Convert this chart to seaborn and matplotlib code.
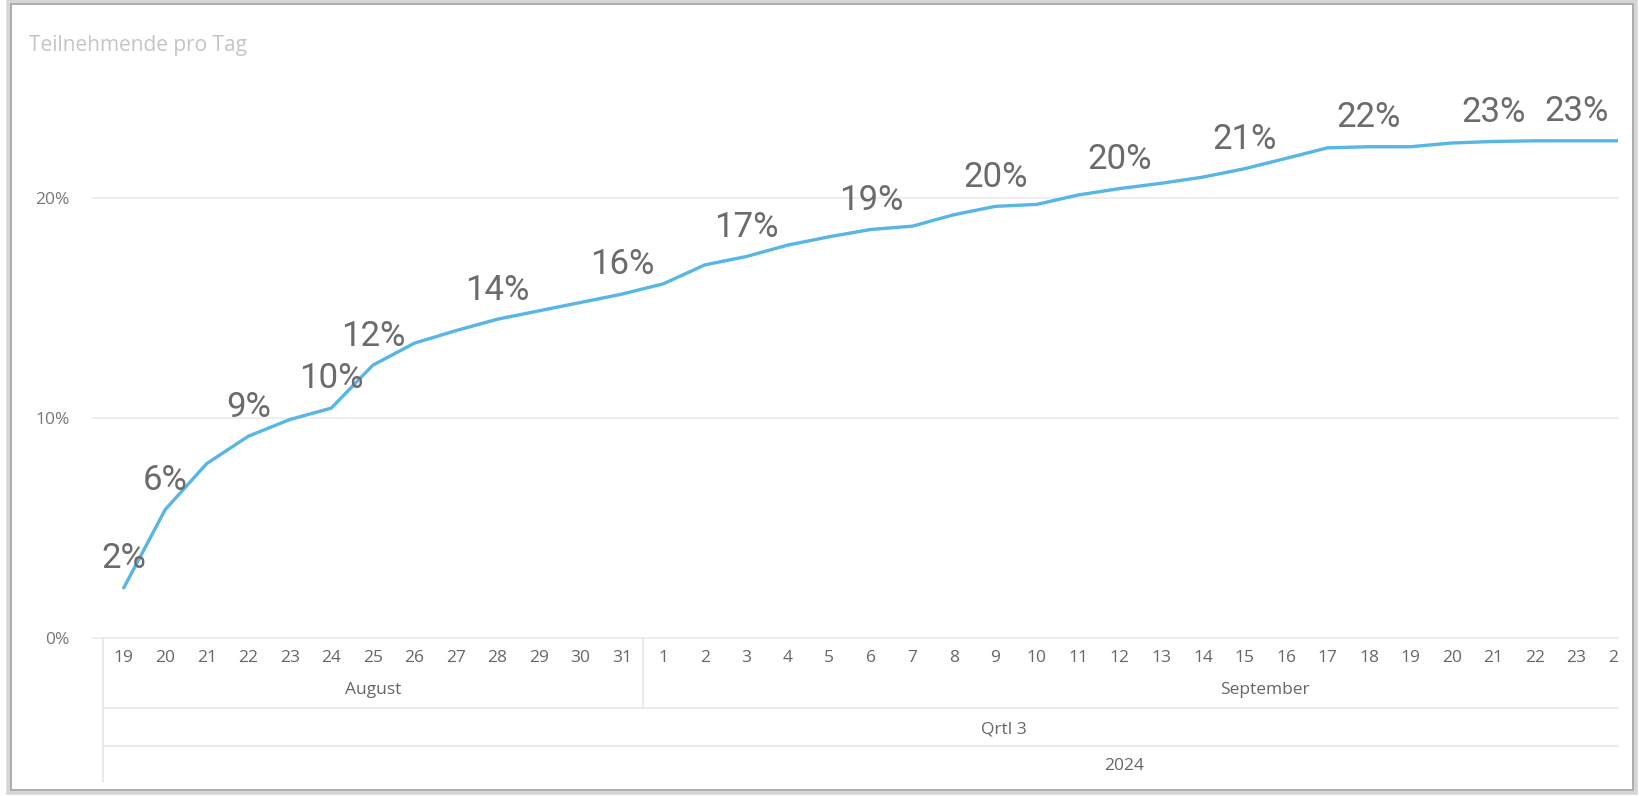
import numpy as np
import pandas as pd
import matplotlib
matplotlib.use("Agg")
import matplotlib.pyplot as plt
from matplotlib.patches import Rectangle
from matplotlib.transforms import Bbox, TransformedBbox
import seaborn as sns

# days shown on the axis (Aug 19 - Sep 24, 2024)
aug_days = list(range(19, 32))
sep_days = list(range(1, 25))
day_labels = [str(d) for d in aug_days + sep_days]
months = ["August"] * len(aug_days) + ["September"] * len(sep_days)

# cumulative share of participants
share = [2.28, 5.84, 7.93, 9.17, 9.93, 10.45, 12.40, 13.40, 13.97, 14.49, 14.87, 15.25, 15.63,
         16.10, 16.96, 17.34, 17.86, 18.24, 18.57, 18.72, 19.24, 19.62, 19.71, 20.14, 20.43,
         20.67, 20.95, 21.33, 21.80, 22.28, 22.33, 22.33, 22.50, 22.57, 22.60, 22.60, 22.60]

# days that carry a data label
labelled = ["19", "20", "22", "24", "25", "28", "31", "3", "6", "9", "12", "15", "18", "21", "23"]
labelled_month = ["August"] * 7 + ["September"] * 8

df = pd.DataFrame({"day": day_labels, "month": months, "share": np.array(share) / 100})
df["pos"] = range(len(df))

sns.set_theme(style="white")
plt.rcParams["font.family"] = ["Open Sans", "DejaVu Sans"]

fig = plt.figure(figsize=(16.4, 7.96), dpi=100)
ax = fig.add_axes([103 / 1640, 1 - 638 / 796, (1618 - 103) / 1640, 594 / 796])

sns.lineplot(data=df, x="pos", y="share", color="#56b6e6", linewidth=2.4, ax=ax)

ax.set_xlim(-0.5, len(df) - 1)
ax.set_ylim(0, 0.27)
for v in [0, 0.1, 0.2]:
    ax.axhline(v, xmin=-0.0075, xmax=1, color="#ebebeb", lw=1.2, zorder=0, clip_on=False)

ax.set_yticks([0, 0.1, 0.2])
ax.set_yticklabels(["0%", "10%", "20%"])
ax.set_xticks(df["pos"])
ax.set_xticklabels(df["day"])
ax.tick_params(axis="y", length=0, pad=24, labelsize=12.5, labelcolor="#777777")
ax.tick_params(axis="x", length=0, pad=9, labelsize=12.5, labelcolor="#666666")

# day labels are cut at the right edge of the plot, like in the report
clip = TransformedBbox(Bbox([[0, 0], [1618 / 1640, 1]]), fig.transFigure)
for lab in ax.get_xticklabels():
    lab.set_clip_on(True)
    lab.set_clip_box(clip)
ax.set_xlabel("")
ax.set_ylabel("")
for s in ax.spines.values():
    s.set_visible(False)

# data labels
for d, m in zip(labelled, labelled_month):
    row = df[(df["day"] == d) & (df["month"] == m)].iloc[0]
    ax.annotate(f"{row['share'] * 100:.0f}%", (row["pos"], row["share"]),
                xytext=(0, 21), textcoords="offset points", ha="center", va="center",
                fontsize=25, color="#6b6b6b", family=["Roboto", "DejaVu Sans"])

# hierarchy of the x axis: month / quarter / year
tr = ax.get_xaxis_transform()
h = 594
y_month = -(690 - 638) / h
y_sep1 = -(708 - 638) / h
y_q = -(729 - 638) / h
y_sep2 = -(746 - 638) / h
y_year = -(766 - 638) / h
y_end = -(782 - 638) / h

grid_kw = dict(color="#e6e6e6", lw=1.2, transform=tr, clip_on=False)
aug_end = len(aug_days) - 0.5
ax.plot([-0.5, -0.5], [0, y_end], **grid_kw)
ax.plot([aug_end, aug_end], [0, y_sep1], **grid_kw)
ax.plot([-0.5, len(df) - 1], [y_sep1, y_sep1], **grid_kw)
ax.plot([-0.5, len(df) - 1], [y_sep2, y_sep2], **grid_kw)

txt_kw = dict(transform=tr, ha="center", va="center", fontsize=12.5, color="#666666", clip_on=False)
ax.text((len(aug_days) - 1) / 2, y_month, "August", **txt_kw)
ax.text(len(aug_days) + (30 - 1) / 2, y_month, "September", **txt_kw)
ax.text(21.2, y_q, "Qrtl 3", **txt_kw)
ax.text(24.1, y_year, "2024", **txt_kw)

fig.text(29 / 1640, 1 - 46 / 796, "Teilnehmende pro Tag", ha="left", va="center",
         fontsize=15, color="#c4c4c4")

# card frame with a soft shadow
fig.patches.append(Rectangle((9 / 1640, 4 / 796), 1626 / 1640, 790 / 796, transform=fig.transFigure,
                             fill=False, edgecolor="#d6d6d6", lw=4))
fig.patches.append(Rectangle((11 / 1640, 6 / 796), 1622 / 1640, 786 / 796, transform=fig.transFigure,
                             fill=False, edgecolor="#a9a9a9", lw=1.3))

fig.savefig("out.png", dpi=100, facecolor="white")
